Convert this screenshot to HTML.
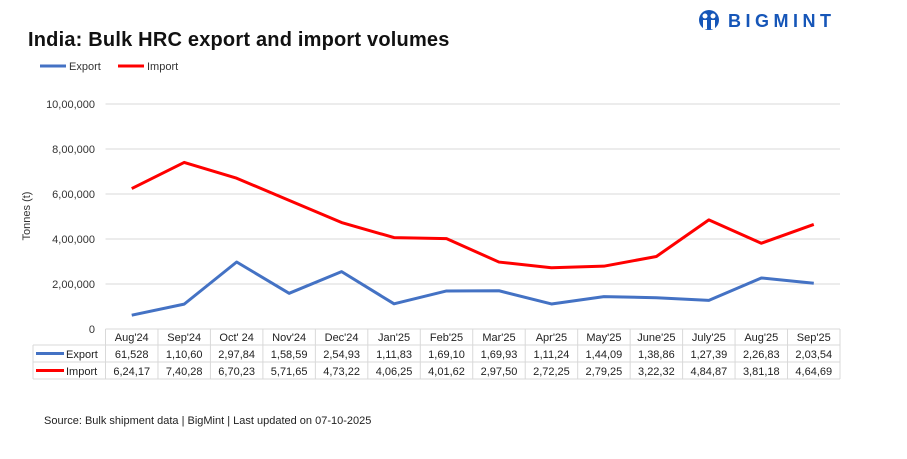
<!DOCTYPE html>
<html><head><meta charset="utf-8">
<style>
body{margin:0;background:#fff;font-family:"Liberation Sans",sans-serif;}
svg text{font-family:"Liberation Sans",sans-serif;}
</style></head>
<body>
<svg id="chart" width="907" height="454" xmlns="http://www.w3.org/2000/svg">
<text x="28" y="46" font-size="20" font-weight="bold" fill="#111" letter-spacing="0.2">India: Bulk HRC export and import volumes</text>
<g>
<circle cx="709" cy="20" r="10" fill="#1656b8"/>
<circle cx="705" cy="16" r="2.5" fill="#fff"/><circle cx="713" cy="16" r="2.5" fill="#fff"/>
<rect x="703" y="20" width="4" height="9" fill="#fff"/><rect x="711" y="20" width="4" height="9" fill="#fff"/>
<text x="728" y="27" font-size="18" font-weight="bold" fill="#1656b8" letter-spacing="4.5">BIGMINT</text>
</g>
<g>
<line x1="40" y1="66" x2="66" y2="66" stroke="#4472c4" stroke-width="3"/>
<text x="69" y="70" font-size="11" fill="#333">Export</text>
<line x1="118" y1="66" x2="144" y2="66" stroke="#ff0000" stroke-width="3"/>
<text x="147" y="70" font-size="11" fill="#333">Import</text>
</g>
<text transform="translate(30,216) rotate(-90)" text-anchor="middle" font-size="11" fill="#333">Tonnes (t)</text>
<g id="grid"></g><g id="table"></g><g id="lines"></g>
<text x="44" y="424" font-size="11" fill="#222">Source: Bulk shipment data | BigMint | Last updated on 07-10-2025</text>
</svg>
<script>
const categories=["Aug'24","Sep'24","Oct' 24","Nov'24","Dec'24","Jan'25","Feb'25","Mar'25","Apr'25","May'25","June'25","July'25","Aug'25","Sep'25"];
const exportValues=[61528,110600,297840,158590,254930,111830,169100,169930,111240,144090,138860,127390,226830,203540];
const importValues=[624170,740280,670230,571650,473220,406250,401620,297500,272250,279250,322320,484870,381180,464690];
const exportLabels=["61,528","1,10,60","2,97,84","1,58,59","2,54,93","1,11,83","1,69,10","1,69,93","1,11,24","1,44,09","1,38,86","1,27,39","2,26,83","2,03,54"];
const importLabels=["6,24,17","7,40,28","6,70,23","5,71,65","4,73,22","4,06,25","4,01,62","2,97,50","2,72,25","2,79,25","3,22,32","4,84,87","3,81,18","4,64,69"];
const yTicks=[0,200000,400000,600000,800000,1000000];
const yTickLabels=["0","2,00,000","4,00,000","6,00,000","8,00,000","10,00,000"];
const NS="http://www.w3.org/2000/svg";
const L=105.5,R=840,T=104,B=329,yMax=1000000;
const cw=(R-L)/categories.length;
const x=i=>L+cw*(i+0.5);
const y=v=>B-(v/yMax)*(B-T);
function mk(tag,attrs,parent,txt){const e=document.createElementNS(NS,tag);for(const k in attrs)e.setAttribute(k,attrs[k]);if(txt!==undefined)e.textContent=txt;parent.appendChild(e);return e;}
const grid=document.getElementById('grid');
yTicks.forEach((t,i)=>{
 if(t>0){const g=mk('line',{x1:L,x2:R,y1:y(t),y2:y(t),stroke:'#d9d9d9','stroke-width':1},grid);
 
 }
 const tx=mk('text',{x:95,y:y(t)+4,'text-anchor':'end','font-size':11,fill:'#333'},grid,yTickLabels[i]);
 
 
});
const tb=document.getElementById('table');
const rows=[329,345,362,379];
const st={stroke:'#d9d9d9','stroke-width':1};
mk('line',Object.assign({x1:L,x2:R,y1:rows[0],y2:rows[0]},st),tb);
for(let r=1;r<4;r++)mk('line',Object.assign({x1:33,x2:R,y1:rows[r],y2:rows[r]},st),tb);
mk('line',Object.assign({x1:33,x2:33,y1:rows[1],y2:rows[3]},st),tb);
for(let i=0;i<=categories.length;i++)mk('line',Object.assign({x1:L+cw*i,x2:L+cw*i,y1:rows[0],y2:rows[3]},st),tb);
mk('line',{x1:36,x2:64,y1:353.5,y2:353.5,stroke:'#4472c4','stroke-width':3},tb);
mk('text',{x:66,y:358,'font-size':11,fill:'#222'},tb,'Export');
mk('line',{x1:36,x2:64,y1:370.5,y2:370.5,stroke:'#ff0000','stroke-width':3},tb);
mk('text',{x:66,y:375,'font-size':11,fill:'#222'},tb,'Import');
categories.forEach((c,i)=>{
 const a=mk('text',{x:x(i),y:341,'text-anchor':'middle','font-size':11,fill:'#222'},tb,c);
 
 
 const b=mk('text',{x:x(i),y:358,'text-anchor':'middle','font-size':11,fill:'#222'},tb,exportLabels[i]);
 
 
 const d=mk('text',{x:x(i),y:375,'text-anchor':'middle','font-size':11,fill:'#222'},tb,importLabels[i]);
 
 
});
const lines=document.getElementById('lines');
function series(vals,color,name){
 const p=mk('polyline',{points:vals.map((v,i)=>x(i)+','+y(v)).join(' '),fill:'none',stroke:color,'stroke-width':3,'stroke-linejoin':'round'},lines);
 
 
}
series(exportValues,'#4472c4','export-line');
series(importValues,'#ff0000','import-line');
</script>
</body></html>
